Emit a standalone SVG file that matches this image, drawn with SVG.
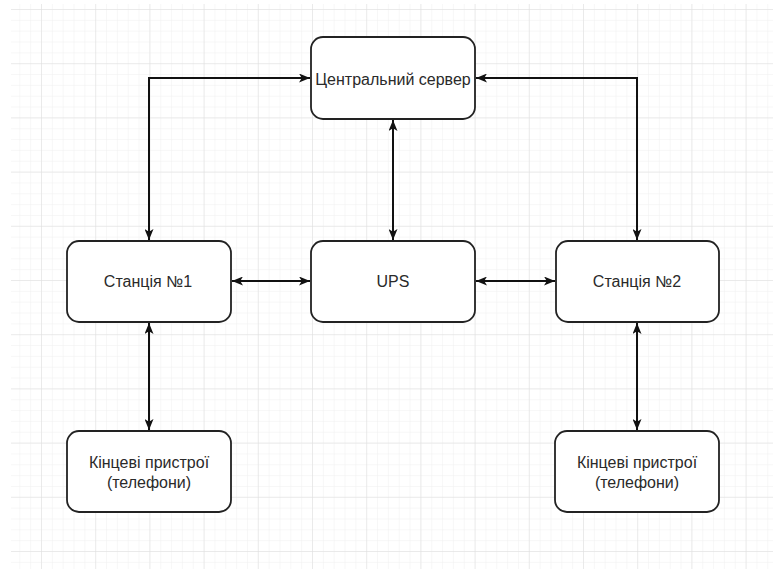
<svg xmlns="http://www.w3.org/2000/svg" width="773" height="569" viewBox="0 0 773 569">
<defs>
<pattern id="minor" patternUnits="userSpaceOnUse" x="41" y="9" width="10.84" height="10.84">
<path d="M0,0 H10.84 M0,0 V10.84" fill="none" stroke="#efefef" stroke-width="1"/>
</pattern>
<pattern id="major" patternUnits="userSpaceOnUse" x="41" y="9" width="54.2" height="54.2">
<path d="M0,0 H54.2 M0,0 V54.2" fill="none" stroke="#dedede" stroke-width="1"/>
</pattern>
<marker id="arr" viewBox="0 0 11 9" refX="11" refY="4.5" markerWidth="11" markerHeight="9" markerUnits="userSpaceOnUse" orient="auto-start-reverse">
<path d="M0,0 L11,4.5 L0,9 L2.8,4.5 Z" fill="#111"/>
</marker>
<style>
.node rect{fill:#ffffff;stroke:#222;stroke-width:1.8}
.node text{font-family:"Liberation Sans",Arial,sans-serif;font-size:16px;fill:#2a2a2a;text-anchor:middle}
.conn path{fill:none;stroke:#111;stroke-width:2;marker-start:url(#arr);marker-end:url(#arr)}
</style>
</defs>
<rect x="0" y="0" width="773" height="569" fill="#ffffff"/>
<rect x="11" y="4" width="762" height="565" fill="url(#minor)"/>
<rect x="11" y="4" width="762" height="565" fill="url(#major)"/>
<g id="connectors" class="conn">
<path d="M149,240 V78 H310"/>
<path d="M476,78 H637 V240"/>
<path d="M393,120 V240"/>
<path d="M232,281 H310"/>
<path d="M476,281 H555"/>
<path d="M149,323 V430"/>
<path d="M637,323 V430"/>
</g>
<g id="server" class="node">
<rect x="311" y="37" width="164" height="82" rx="12"/>
<text x="393" y="85">Центральний сервер</text>
</g>
<g id="station1" class="node">
<rect x="67" y="241" width="164" height="81" rx="12"/>
<text x="148" y="287">Станція №1</text>
</g>
<g id="ups" class="node">
<rect x="311" y="241" width="164" height="81" rx="12"/>
<text x="393" y="287">UPS</text>
</g>
<g id="station2" class="node">
<rect x="556" y="241" width="163" height="81" rx="12"/>
<text x="637" y="287">Станція №2</text>
</g>
<g id="end1" class="node">
<rect x="67" y="431" width="164" height="81" rx="12"/>
<text x="149" y="468">Кінцеві пристрої</text>
<text x="149" y="488">(телефони)</text>
</g>
<g id="end2" class="node">
<rect x="555" y="431" width="164" height="81" rx="12"/>
<text x="637" y="468">Кінцеві пристрої</text>
<text x="637" y="488">(телефони)</text>
</g>
</svg>
